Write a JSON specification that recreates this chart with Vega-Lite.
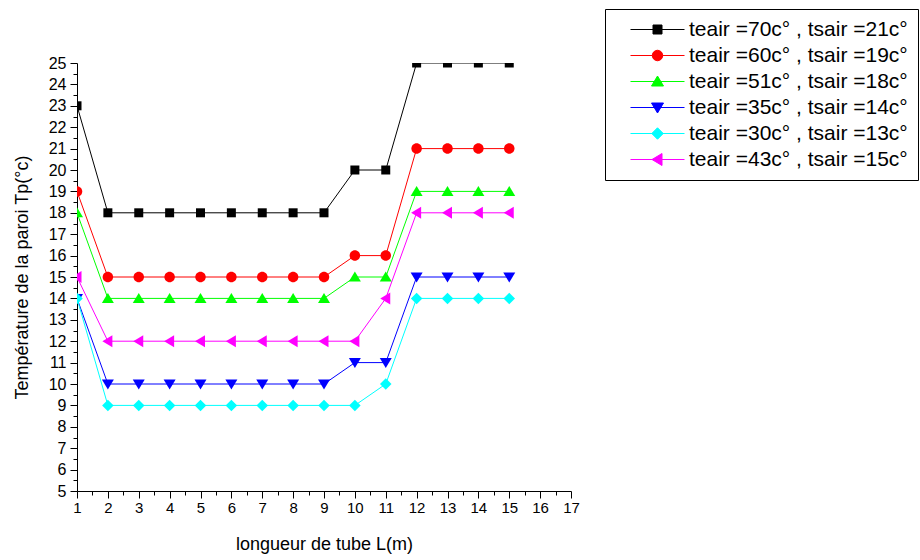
{
  "$schema": "https://vega.github.io/schema/vega-lite/v6.json",
  "width": 494,
  "height": 428,
  "autosize": {"type": "none"},
  "padding": {"left": 77, "top": 63, "right": 349, "bottom": 69},
  "background": "white",
  "config": {
    "view": {"stroke": null},
    "font": "Liberation Sans",
    "axis": {
      "domainColor": "black",
      "tickColor": "black",
      "labelColor": "black",
      "titleColor": "black",
      "grid": false,
      "labelFont": "Liberation Sans",
      "titleFont": "Liberation Sans",
      "titleFontWeight": "normal",
      "labelFontSize": 15,
      "titleFontSize": 18,
      "labelFlush": false,
      "domainWidth": 1,
      "tickWidth": 1
    }
  },
  "data": {
    "values": [
      {"x": 1, "y": 23, "s": "teair =70c° , tsair =21c°"},
      {"x": 2, "y": 18, "s": "teair =70c° , tsair =21c°"},
      {"x": 3, "y": 18, "s": "teair =70c° , tsair =21c°"},
      {"x": 4, "y": 18, "s": "teair =70c° , tsair =21c°"},
      {"x": 5, "y": 18, "s": "teair =70c° , tsair =21c°"},
      {"x": 6, "y": 18, "s": "teair =70c° , tsair =21c°"},
      {"x": 7, "y": 18, "s": "teair =70c° , tsair =21c°"},
      {"x": 8, "y": 18, "s": "teair =70c° , tsair =21c°"},
      {"x": 9, "y": 18, "s": "teair =70c° , tsair =21c°"},
      {"x": 10, "y": 20, "s": "teair =70c° , tsair =21c°"},
      {"x": 11, "y": 20, "s": "teair =70c° , tsair =21c°"},
      {"x": 12, "y": 25, "s": "teair =70c° , tsair =21c°"},
      {"x": 13, "y": 25, "s": "teair =70c° , tsair =21c°"},
      {"x": 14, "y": 25, "s": "teair =70c° , tsair =21c°"},
      {"x": 15, "y": 25, "s": "teair =70c° , tsair =21c°"},
      {"x": 1, "y": 19, "s": "teair =60c° , tsair =19c°"},
      {"x": 2, "y": 15, "s": "teair =60c° , tsair =19c°"},
      {"x": 3, "y": 15, "s": "teair =60c° , tsair =19c°"},
      {"x": 4, "y": 15, "s": "teair =60c° , tsair =19c°"},
      {"x": 5, "y": 15, "s": "teair =60c° , tsair =19c°"},
      {"x": 6, "y": 15, "s": "teair =60c° , tsair =19c°"},
      {"x": 7, "y": 15, "s": "teair =60c° , tsair =19c°"},
      {"x": 8, "y": 15, "s": "teair =60c° , tsair =19c°"},
      {"x": 9, "y": 15, "s": "teair =60c° , tsair =19c°"},
      {"x": 10, "y": 16, "s": "teair =60c° , tsair =19c°"},
      {"x": 11, "y": 16, "s": "teair =60c° , tsair =19c°"},
      {"x": 12, "y": 21, "s": "teair =60c° , tsair =19c°"},
      {"x": 13, "y": 21, "s": "teair =60c° , tsair =19c°"},
      {"x": 14, "y": 21, "s": "teair =60c° , tsair =19c°"},
      {"x": 15, "y": 21, "s": "teair =60c° , tsair =19c°"},
      {"x": 1, "y": 18, "s": "teair =51c° , tsair =18c°"},
      {"x": 2, "y": 14, "s": "teair =51c° , tsair =18c°"},
      {"x": 3, "y": 14, "s": "teair =51c° , tsair =18c°"},
      {"x": 4, "y": 14, "s": "teair =51c° , tsair =18c°"},
      {"x": 5, "y": 14, "s": "teair =51c° , tsair =18c°"},
      {"x": 6, "y": 14, "s": "teair =51c° , tsair =18c°"},
      {"x": 7, "y": 14, "s": "teair =51c° , tsair =18c°"},
      {"x": 8, "y": 14, "s": "teair =51c° , tsair =18c°"},
      {"x": 9, "y": 14, "s": "teair =51c° , tsair =18c°"},
      {"x": 10, "y": 15, "s": "teair =51c° , tsair =18c°"},
      {"x": 11, "y": 15, "s": "teair =51c° , tsair =18c°"},
      {"x": 12, "y": 19, "s": "teair =51c° , tsair =18c°"},
      {"x": 13, "y": 19, "s": "teair =51c° , tsair =18c°"},
      {"x": 14, "y": 19, "s": "teair =51c° , tsair =18c°"},
      {"x": 15, "y": 19, "s": "teair =51c° , tsair =18c°"},
      {"x": 1, "y": 14, "s": "teair =35c° , tsair =14c°"},
      {"x": 2, "y": 10, "s": "teair =35c° , tsair =14c°"},
      {"x": 3, "y": 10, "s": "teair =35c° , tsair =14c°"},
      {"x": 4, "y": 10, "s": "teair =35c° , tsair =14c°"},
      {"x": 5, "y": 10, "s": "teair =35c° , tsair =14c°"},
      {"x": 6, "y": 10, "s": "teair =35c° , tsair =14c°"},
      {"x": 7, "y": 10, "s": "teair =35c° , tsair =14c°"},
      {"x": 8, "y": 10, "s": "teair =35c° , tsair =14c°"},
      {"x": 9, "y": 10, "s": "teair =35c° , tsair =14c°"},
      {"x": 10, "y": 11, "s": "teair =35c° , tsair =14c°"},
      {"x": 11, "y": 11, "s": "teair =35c° , tsair =14c°"},
      {"x": 12, "y": 15, "s": "teair =35c° , tsair =14c°"},
      {"x": 13, "y": 15, "s": "teair =35c° , tsair =14c°"},
      {"x": 14, "y": 15, "s": "teair =35c° , tsair =14c°"},
      {"x": 15, "y": 15, "s": "teair =35c° , tsair =14c°"},
      {"x": 1, "y": 14, "s": "teair =30c° , tsair =13c°"},
      {"x": 2, "y": 9, "s": "teair =30c° , tsair =13c°"},
      {"x": 3, "y": 9, "s": "teair =30c° , tsair =13c°"},
      {"x": 4, "y": 9, "s": "teair =30c° , tsair =13c°"},
      {"x": 5, "y": 9, "s": "teair =30c° , tsair =13c°"},
      {"x": 6, "y": 9, "s": "teair =30c° , tsair =13c°"},
      {"x": 7, "y": 9, "s": "teair =30c° , tsair =13c°"},
      {"x": 8, "y": 9, "s": "teair =30c° , tsair =13c°"},
      {"x": 9, "y": 9, "s": "teair =30c° , tsair =13c°"},
      {"x": 10, "y": 9, "s": "teair =30c° , tsair =13c°"},
      {"x": 11, "y": 10, "s": "teair =30c° , tsair =13c°"},
      {"x": 12, "y": 14, "s": "teair =30c° , tsair =13c°"},
      {"x": 13, "y": 14, "s": "teair =30c° , tsair =13c°"},
      {"x": 14, "y": 14, "s": "teair =30c° , tsair =13c°"},
      {"x": 15, "y": 14, "s": "teair =30c° , tsair =13c°"},
      {"x": 1, "y": 15, "s": "teair =43c° , tsair =15c°"},
      {"x": 2, "y": 12, "s": "teair =43c° , tsair =15c°"},
      {"x": 3, "y": 12, "s": "teair =43c° , tsair =15c°"},
      {"x": 4, "y": 12, "s": "teair =43c° , tsair =15c°"},
      {"x": 5, "y": 12, "s": "teair =43c° , tsair =15c°"},
      {"x": 6, "y": 12, "s": "teair =43c° , tsair =15c°"},
      {"x": 7, "y": 12, "s": "teair =43c° , tsair =15c°"},
      {"x": 8, "y": 12, "s": "teair =43c° , tsair =15c°"},
      {"x": 9, "y": 12, "s": "teair =43c° , tsair =15c°"},
      {"x": 10, "y": 12, "s": "teair =43c° , tsair =15c°"},
      {"x": 11, "y": 14, "s": "teair =43c° , tsair =15c°"},
      {"x": 12, "y": 18, "s": "teair =43c° , tsair =15c°"},
      {"x": 13, "y": 18, "s": "teair =43c° , tsair =15c°"},
      {"x": 14, "y": 18, "s": "teair =43c° , tsair =15c°"},
      {"x": 15, "y": 18, "s": "teair =43c° , tsair =15c°"}
    ]
  },
  "layer": [
    {
      "mark": {"type": "line", "strokeWidth": 1, "clip": true},
      "encoding": {
        "x": {
          "field": "x", "type": "quantitative",
          "scale": {"domain": [1, 17], "nice": false, "zero": false},
          "axis": {"orient": "bottom", "values": [1,2,3,4,5,6,7,8,9,10,11,12,13,14,15,16,17], "tickSize": 7, "labelPadding": 2, "title": "longueur de tube L(m)", "titlePadding": 20, "format": "d"}
        },
        "y": {
          "field": "y", "type": "quantitative",
          "scale": {"domain": [5, 25], "nice": false, "zero": false},
          "axis": {"orient": "left", "values": [5,6,7,8,9,10,11,12,13,14,15,16,17,18,19,20,21,22,23,24,25], "tickSize": 7, "labelPadding": 4, "labelFontSize": 16, "title": "Température de la paroi Tp(°c)", "titlePadding": 17, "format": "d"}
        },
        "color": {
          "field": "s", "type": "nominal",
          "scale": {
            "domain": ["teair =70c° , tsair =21c°", "teair =60c° , tsair =19c°", "teair =51c° , tsair =18c°", "teair =35c° , tsair =14c°", "teair =30c° , tsair =13c°", "teair =43c° , tsair =15c°"],
            "range": ["#000000", "#ff0000", "#00ff00", "#0000ff", "#00ffff", "#ff00ff"]
          },
          "legend": {
            "title": null,
            "orient": "none",
            "legendX": 528,
            "legendY": -54,
            "direction": "vertical",
            "fillColor": "white",
            "strokeColor": "black",
            "padding": 10,
            "rowPadding": 4,
            "labelFont": "Liberation Sans",
            "labelFontSize": 21,
            "labelColor": "black",
            "labelLimit": 400,
            "symbolSize": 100,
            "symbolStrokeWidth": 1,
            "symbolOffset": 32,
            "labelOffset": 21,
            "encode": {
              "symbols": {
                "update": {
                  "shape": {"signal": "datum.value === 'teair =70c° , tsair =21c°' ? 'M-5.4,0H5.4M-0.9,-0.9H0.9V0.9H-0.9Z' : datum.value === 'teair =60c° , tsair =19c°' ? 'M-5.4,0H-1M1,0H5.4M-1.05,0A1.05,1.05,0,1,1,1.05,0A1.05,1.05,0,1,1,-1.05,0Z' : datum.value === 'teair =51c° , tsair =18c°' ? 'M-5.4,0H5.4M0,-1.1L1.2,0.9L-1.2,0.9Z' : datum.value === 'teair =35c° , tsair =14c°' ? 'M-5.4,0H5.4M0,1.1L1.2,-0.9L-1.2,-0.9Z' : datum.value === 'teair =30c° , tsair =13c°' ? 'M-5.4,0H5.4M0,-1.15L1.15,0L0,1.15L-1.15,0Z' : 'M-5.4,0H5.4M-1.1,0L0.9,-1.2L0.9,1.2Z'"},
                  "strokeWidth": {"value": 1},
                  "opacity": {"value": 1}
                }
              }
            }
          }
        }
      }
    },
    {
      "mark": {"type": "point", "filled": true, "opacity": 1, "size": 100, "clip": true},
      "encoding": {
        "x": {"field": "x", "type": "quantitative", "axis": null},
        "y": {"field": "y", "type": "quantitative", "axis": null},
        "color": {"field": "s", "type": "nominal"},
        "shape": {
          "field": "s", "type": "nominal",
          "scale": {
            "range": [
              "M0,-1.15L1.15,0L0,1.15L-1.15,0Z",
              "M0,1.1L1.2,-0.9L-1.2,-0.9Z",
              "M-1.1,0L0.9,-1.2L0.9,1.2Z",
              "M0,-1.1L1.2,0.9L-1.2,0.9Z",
              "M-1.05,0A1.05,1.05,0,1,1,1.05,0A1.05,1.05,0,1,1,-1.05,0Z",
              "M-0.9,-0.9H0.9V0.9H-0.9Z"
            ]
          },
          "legend": null
        }
      }
    },
    {
      "mark": {"type": "point", "opacity": 0},
      "encoding": {
        "x": {"field": "x", "type": "quantitative", "axis": {"orient": "bottom", "values": [1.5,2.5,3.5,4.5,5.5,6.5,7.5,8.5,9.5,10.5,11.5,12.5,13.5,14.5,15.5,16.5], "labels": false, "domain": false, "tickSize": 4, "title": null}},
        "y": {"field": "y", "type": "quantitative", "axis": {"orient": "left", "values": [5.5,6.5,7.5,8.5,9.5,10.5,11.5,12.5,13.5,14.5,15.5,16.5,17.5,18.5,19.5,20.5,21.5,22.5,23.5,24.5], "labels": false, "domain": false, "tickSize": 4, "title": null}}
      }
    }
  ],
  "resolve": {"axis": {"x": "independent", "y": "independent"}}
}
